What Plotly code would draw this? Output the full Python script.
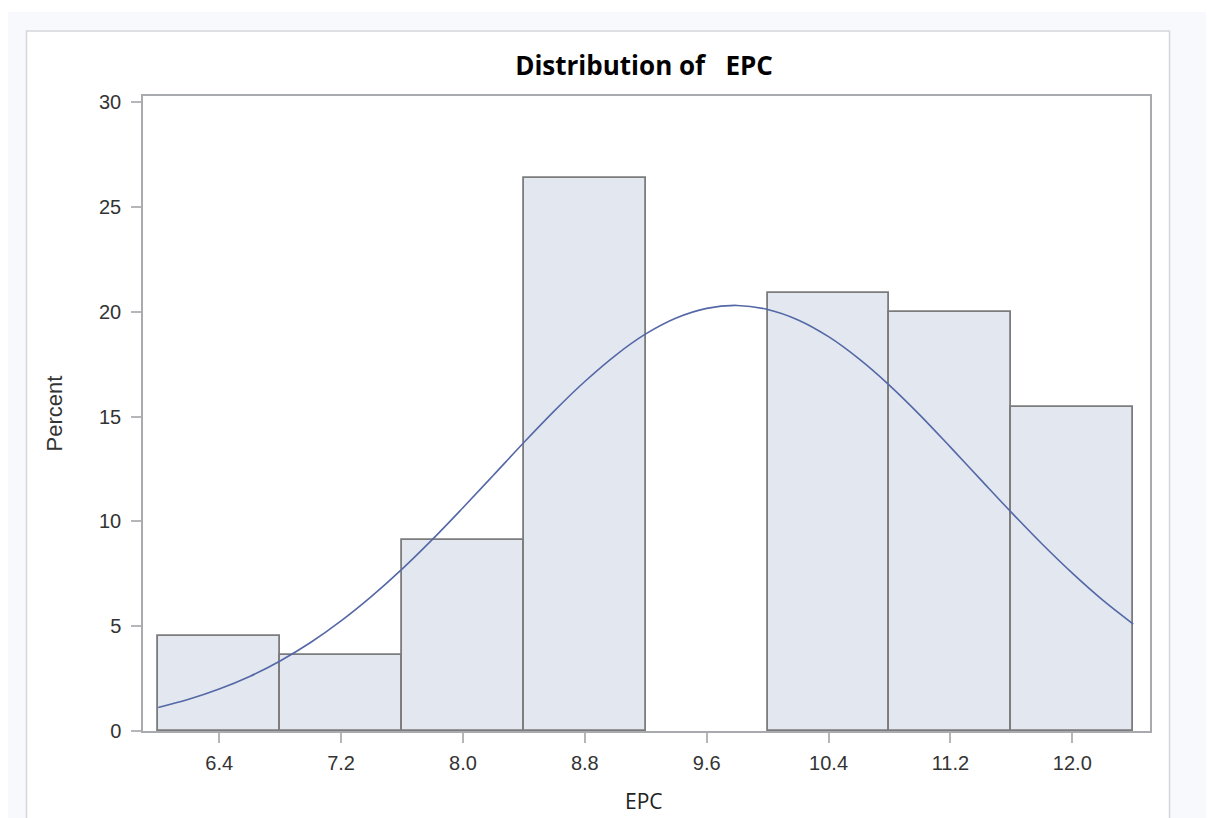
import plotly.graph_objects as go

# Histogram data (percent per bin, bin width 0.8)
bin_centers = [6.4, 7.2, 8.0, 8.8, 9.6, 10.4, 11.2, 12.0]
percents = [4.55, 3.64, 9.09, 26.36, 0.0, 20.91, 20.0, 15.45]

# Normal density curve (percent scale)
curve_x = [6.0, 6.2, 6.4, 6.6, 6.8, 7.0, 7.2, 7.4, 7.6, 7.8, 8.0, 8.2, 8.4, 8.6, 8.8,
           9.0, 9.2, 9.4, 9.6, 9.8, 10.0, 10.2, 10.4, 10.6, 10.8, 11.0, 11.2, 11.4,
           11.6, 11.8, 12.0, 12.2, 12.4]
curve_y = [1.12, 1.51, 2.00, 2.60, 3.34, 4.22, 5.25, 6.42, 7.72, 9.14, 10.65, 12.20,
           13.76, 15.27, 16.67, 17.91, 18.94, 19.70, 20.16, 20.30, 20.11, 19.61, 18.81,
           17.75, 16.49, 15.07, 13.54, 11.98, 10.43, 8.93, 7.53, 6.24, 5.10]

x_ticks = [6.4, 7.2, 8.0, 8.8, 9.6, 10.4, 11.2, 12.0]
x_tick_labels = ["6.4", "7.2", "8.0", "8.8", "9.6", "10.4", "11.2", "12.0"]
y_ticks = [0, 5, 10, 15, 20, 25, 30]
x_title = "EPC"

OFF = 8  # browser body margin
FW, FH = 1214 - OFF, 818 - OFF
# plot area in page pixels
L, R, T, B = 143, 1150, 96, 731


def px(x):
    return (x - L) / (R - L)


def py(y):
    return (B - y) / (B - T)


bar_line_w = [1.8 if p > 0 else 0 for p in percents]

fig = go.Figure()
fig.add_trace(go.Bar(
    x=bin_centers, y=percents, width=0.8,
    marker=dict(color="#e2e7f0", line=dict(color="#7c7c7c", width=bar_line_w)),
    hoverinfo="x+y", showlegend=False,
))
fig.add_trace(go.Scatter(
    x=curve_x, y=curve_y, mode="lines", line_shape="spline",
    line=dict(color="#5468a6", width=1.6), showlegend=False,
))

fig.update_layout(
    width=FW, height=FH,
    paper_bgcolor="white", plot_bgcolor="white",
    margin=dict(l=L - OFF, r=FW - (R - OFF), t=T - OFF, b=FH - (B - OFF)),
    title=dict(
        text="<b>Distribution of\u00a0\u00a0\u00a0EPC</b>",
        x=px(644), xref="paper", xanchor="center",
        y=1 - (66 - OFF) / FH, yanchor="middle",
        font=dict(family="Open Sans, Noto Sans, sans-serif", size=26, color="#000000"),
    ),
    bargap=0,
    shapes=[
        dict(type="rect", xref="paper", yref="paper", layer="below",
             x0=px(8), x1=px(1230), y0=py(840), y1=py(12),
             fillcolor="#f8f9fc", line=dict(width=0)),
        dict(type="rect", xref="paper", yref="paper", layer="below",
             x0=px(26.5), x1=px(1169.5), y0=py(850), y1=py(31),
             fillcolor="white", line=dict(color="#d4d6da", width=1.5)),
    ],
    annotations=[
        dict(text=x_title, xref="paper", yref="paper", x=px(644), y=py(817),
             xanchor="center", yanchor="bottom", showarrow=False,
             font=dict(family="Open Sans, Noto Sans, sans-serif", size=21, color="#222222")),
    ],
)

fig.update_xaxes(
    range=[5.90, 12.51], tickvals=x_ticks, ticktext=x_tick_labels,
    ticks="outside", ticklen=10, tickcolor="#b4b6b8", tickwidth=1.5,
    ticklabelstandoff=3, automargin=False,
    showline=True, linecolor="#a8aaad", linewidth=1.5, mirror=True,
    showgrid=False, zeroline=False,
    tickfont=dict(family="Liberation Sans, Arial, sans-serif", size=20, color="#333333"),
)
fig.update_yaxes(
    range=[0, 30.29], tickvals=y_ticks,
    ticks="outside", ticklen=10, tickcolor="#b4b6b8", tickwidth=1.5,
    ticklabelstandoff=6, automargin=False,
    showline=True, linecolor="#a8aaad", linewidth=1.5, mirror=True,
    showgrid=False, zeroline=False,
    tickfont=dict(family="Liberation Sans, Arial, sans-serif", size=20, color="#333333"),
    title=dict(text="Percent", standoff=30,
               font=dict(family="Liberation Sans, Arial, sans-serif", size=22, color="#333333")),
)

fig.write_html("out.html")
